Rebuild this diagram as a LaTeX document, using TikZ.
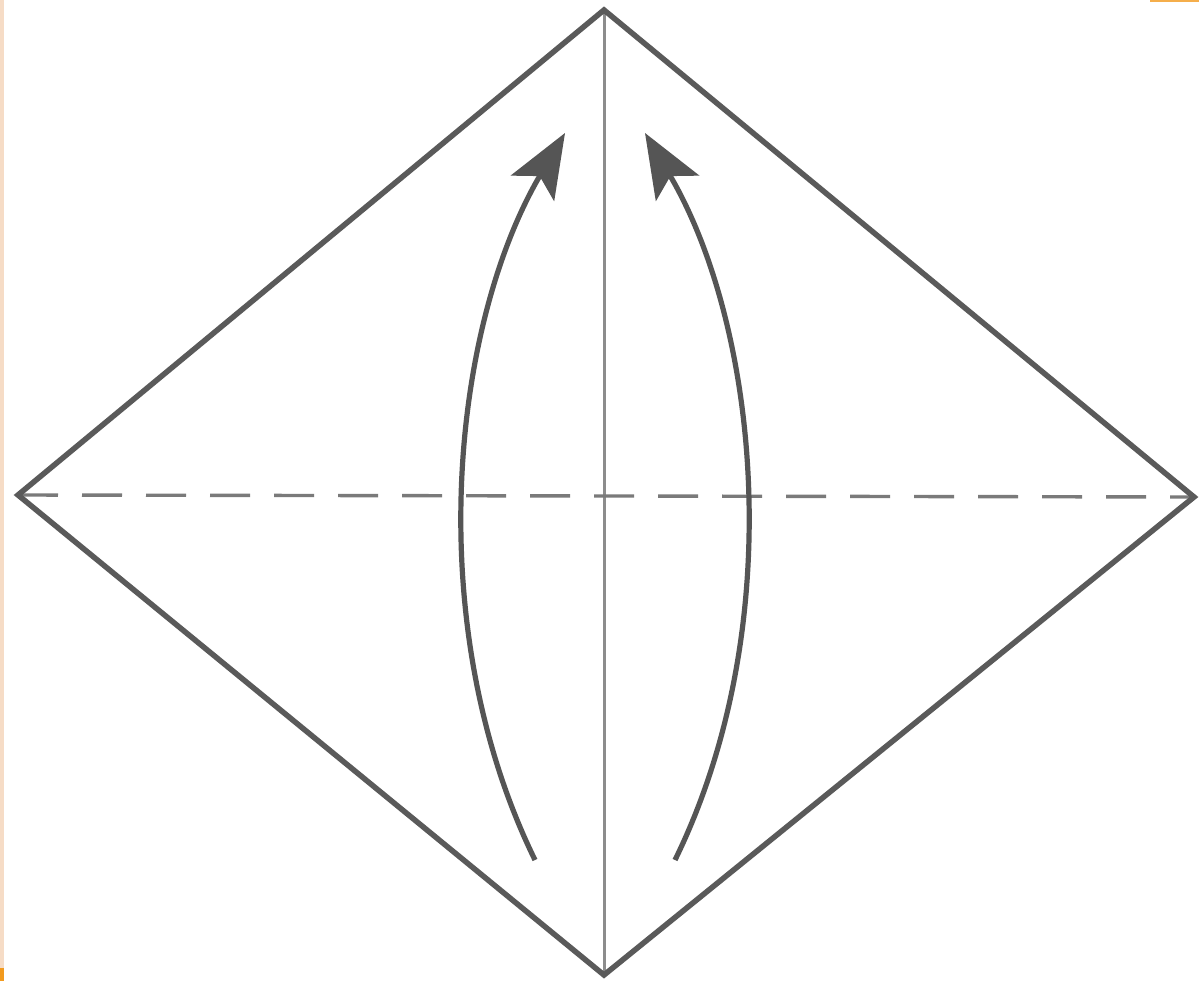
\documentclass[tikz,border=0pt]{standalone}
\usetikzlibrary{arrows.meta}
\definecolor{edgegray}{HTML}{5A5A5A}
\definecolor{midgray}{HTML}{8C8C8C}
\definecolor{dashgray}{HTML}{7A7A7A}
\definecolor{arrowgray}{HTML}{555555}
\definecolor{peach}{HTML}{F6DCC6}
\definecolor{scanorange}{HTML}{F29A1E}
\tikzset{
  paperedge/.style={draw=edgegray, line width=5.5pt, line join=miter},
  crease/.style={draw=midgray, line width=3pt},
  valley/.style={draw=dashgray, line width=3.4pt, dash pattern=on 40pt off 24pt},
  foldarrow/.style={draw=arrowgray, line width=5.2pt, -{Stealth[length=64pt, width=50pt, inset=14pt]}}
}
\begin{document}
\begin{tikzpicture}[x=1pt, y=-1pt]
\useasboundingbox[fill=white] (0,0) rectangle (1199,981);
% scan edge artefacts
\fill[peach] (0,0) rectangle (4,981);
\fill[scanorange] (0,968) rectangle (4,981);
\fill[scanorange!80] (1150,0) rectangle (1199,2.5);
% corners
\coordinate (T) at (604,10);
\coordinate (B) at (604,975);
\coordinate (L) at (18,495);
\coordinate (R) at (1194,497);
% crease lines
\draw[crease] (T) -- (B);
\draw[valley] (L) -- (R);
% paper outline
\draw[paperedge] (T) -- (R) -- (B) -- (L) -- cycle;
% fold arrows
\coordinate (LS) at (535,860);
\coordinate (LE) at (565,133);
\coordinate (RS) at (675,860);
\coordinate (RE) at (645,133);
\draw[foldarrow] (LS) .. controls (420,625) and (452,325) .. (LE);
\draw[foldarrow] (RS) .. controls (790,625) and (758,325) .. (RE);
\end{tikzpicture}
\end{document}
